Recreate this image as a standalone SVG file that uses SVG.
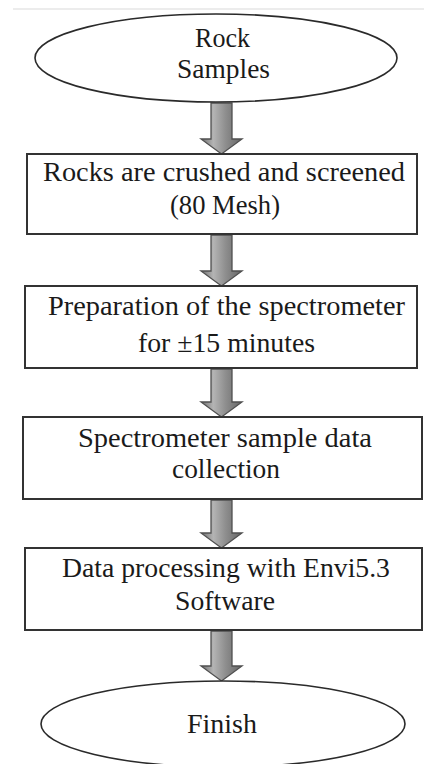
<svg xmlns="http://www.w3.org/2000/svg" width="424" height="764" viewBox="0 0 424 764">
<defs>
<linearGradient id="ag" x1="0" y1="0" x2="1" y2="0">
<stop offset="0" stop-color="#6e6e6e"/>
<stop offset="0.3" stop-color="#b4b4b4"/>
<stop offset="0.6" stop-color="#8e8e8e"/>
<stop offset="1" stop-color="#666"/>
</linearGradient>
<style>
.node{fill:#fff;stroke:#333;stroke-width:2}
.ell{fill:#fff;stroke:#2a2a2a;stroke-width:1.6}
.t{font-family:"Liberation Serif","Times New Roman",serif;font-size:27px;fill:#1a1a1a;text-anchor:middle}
.arr{fill:url(#ag);stroke:#505050;stroke-width:1.3;stroke-linejoin:miter}
</style>
</defs>
<rect width="424" height="764" fill="#fff"/>
<line x1="13" y1="9" x2="424" y2="9" stroke="#ececec" stroke-width="2"/>
<line x1="52" y1="460" x2="52" y2="471" stroke="#cfcfcf" stroke-width="1.2"/>
<g id="connectors">
<polygon class="arr" points="211,103 232,103 232,139 242,139 221.5,154 201,139 211,139"/>
<polygon class="arr" points="211,235 232,235 232,271 242,271 221.5,286 201,271 211,271"/>
<polygon class="arr" points="211,369 232,369 232,402 242,402 221.5,417 201,402 211,402"/>
<polygon class="arr" points="211,500 232,500 232,533 242,533 221.5,548 201,533 211,533"/>
<polygon class="arr" points="211,631 232,631 232,666 242,666 221.5,681 201,666 211,666"/>
</g>
<g id="start">
<ellipse class="ell" cx="216" cy="58" rx="181" ry="44"/>
<text class="t" x="222.5" y="47" textLength="55" lengthAdjust="spacingAndGlyphs">Rock</text>
<text class="t" x="223.5" y="78" textLength="93" lengthAdjust="spacingAndGlyphs">Samples</text>
</g>
<g id="crush">
<rect class="node" x="27" y="154" width="390" height="80"/>
<text class="t" x="224" y="181" textLength="362" lengthAdjust="spacingAndGlyphs">Rocks are crushed and screened</text>
<text class="t" x="225" y="214" textLength="110" lengthAdjust="spacingAndGlyphs">(80 Mesh)</text>
</g>
<g id="prep">
<rect class="node" x="25" y="286" width="392" height="82"/>
<text class="t" x="226.5" y="315" textLength="357" lengthAdjust="spacingAndGlyphs">Preparation of the spectrometer</text>
<text class="t" x="226.5" y="352" textLength="177" lengthAdjust="spacingAndGlyphs">for ±15 minutes</text>
</g>
<g id="collect">
<rect class="node" x="23" y="417" width="399" height="82"/>
<text class="t" x="225" y="447" textLength="294" lengthAdjust="spacingAndGlyphs">Spectrometer sample data</text>
<text class="t" x="226" y="478" textLength="108" lengthAdjust="spacingAndGlyphs">collection</text>
</g>
<g id="process">
<rect class="node" x="25" y="548" width="397" height="82"/>
<text class="t" x="226" y="577" textLength="328" lengthAdjust="spacingAndGlyphs">Data processing with Envi5.3</text>
<text class="t" x="225" y="610" textLength="100" lengthAdjust="spacingAndGlyphs">Software</text>
</g>
<g id="finish">
<ellipse class="ell" cx="223" cy="724" rx="182" ry="43"/>
<text class="t" x="222" y="733" textLength="70" lengthAdjust="spacingAndGlyphs">Finish</text>
</g>
</svg>
